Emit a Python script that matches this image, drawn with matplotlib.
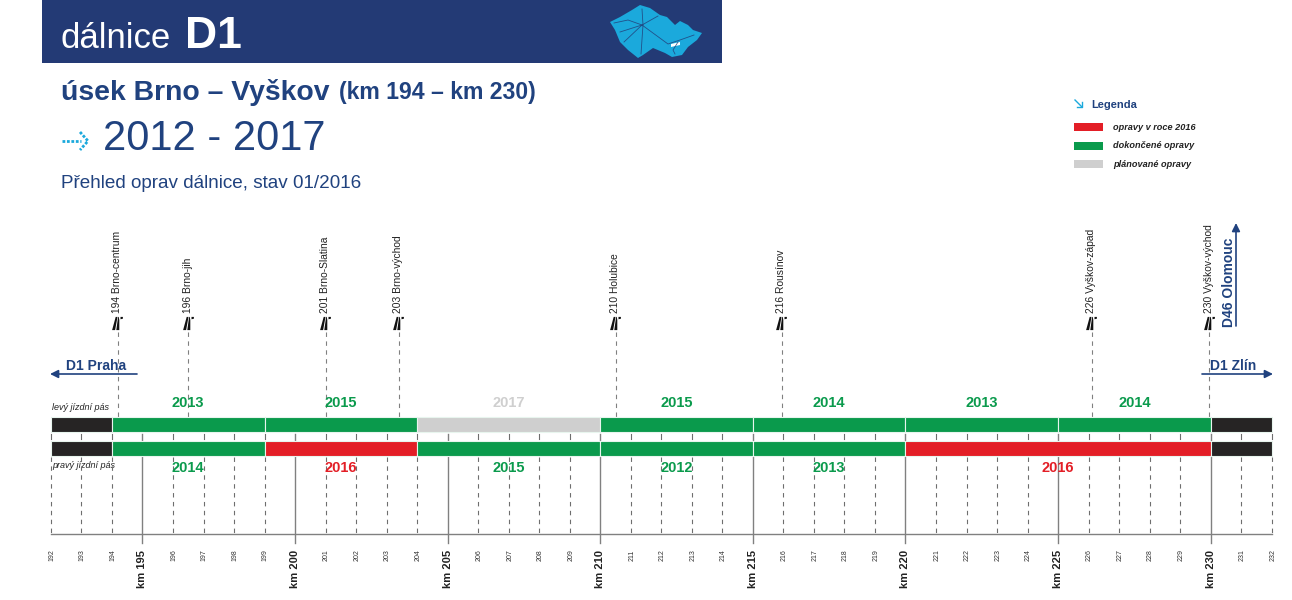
import matplotlib as mpl
mpl.use('Agg')
import matplotlib.pyplot as plt
from matplotlib import patches
from matplotlib.path import Path

# useky oprav: od km, do km, rok
left_start = [192, 194, 199, 204, 210, 215, 220, 225, 230]
left_end = [194, 199, 204, 210, 215, 220, 225, 230, 232]
left_year = [None, 2013, 2015, 2017, 2015, 2014, 2013, 2014, None]
right_start = [192, 194, 199, 204, 210, 215, 220, 230]
right_end = [194, 199, 204, 210, 215, 220, 230, 232]
right_year = [None, 2014, 2016, 2015, 2012, 2013, 2016, None]

exit_km = [194.2, 196.5, 201.0, 203.4, 210.5, 215.95, 226.1, 229.95]
exit_names = ['194 Brno-centrum', '196 Brno-jih', '201 Brno-Slatina', '203 Brno-východ',
              '210 Holubice', '216 Rousínov', '226 Vyškov-západ', '230 Vyškov-východ']
km_ticks = list(range(192, 233))
km_major = [195, 200, 205, 210, 215, 220, 225, 230]

legend_labels = ['opravy v roce 2016', 'dokončené opravy', 'plánované opravy']

RED = '#e31e26'
GREEN = '#0a9a4c'
GRAY = '#cfcfcf'
BLACK = '#262424'
NAVY = '#233a75'
BLUE = '#20427f'
CYAN = '#1ba9dc'
SANS = ['Liberation Sans']

def year_color(y):
    if y is None:
        return BLACK
    if y == 2016:
        return RED
    if y == 2017:
        return GRAY
    return GREEN

fig = plt.figure(figsize=(12.92, 6), dpi=100, facecolor='white')
# pixelove platno na texty a zahlavi
px = fig.add_axes([0, 0, 1, 1])
px.set_xlim(0, 1292)
px.set_ylim(600, 0)
px.axis('off')
# osa v km, stejna vyska jako platno
ax = fig.add_axes([0, 0, 1, 1])
ax.set_xlim(192 - 50.9 / 30.52, 192 + (1292 - 50.9) / 30.52)
ax.set_ylim(600, 0)
ax.axis('off')

# zahlavi
px.add_patch(patches.Rectangle((42, 0), 680, 63, color=NAVY, lw=0))
px.text(61, 38, 'dálnice', color='white', fontsize=25, family=SANS, va='center', ha='left')
px.text(185, 36, 'D1', color='white', fontsize=32, family=SANS, weight='bold', va='center', ha='left')
px.text(61, 92, 'úsek Brno – Vyškov', color=BLUE, fontsize=20.4, family=SANS, weight='bold', va='center')
px.text(339, 92, '(km 194 – km 230)', color=BLUE, fontsize=16.6, family=SANS, weight='bold', va='center')
px.text(103, 139, '2012 - 2017', color=BLUE, fontsize=30, family=SANS, va='center')
px.text(61, 183, 'Přehled oprav dálnice, stav 01/2016', color=BLUE, fontsize=13.6, family=SANS, va='center')
px.plot([62, 81], [141, 141], color=CYAN, lw=2, ls=(0, (1, 0.6)))
px.plot([80, 88, 80], [132, 141, 150], color=CYAN, lw=2, ls=(0, (1, 0.6)))

# mapa CR - jen hruby obrys
map_x = [610, 620, 632, 640, 650, 660, 667, 675, 680, 688, 693, 702, 697, 688, 682, 672, 665, 653, 643, 638, 628, 620, 615]
map_y = [22, 17, 10, 5, 8, 15, 17, 25, 21, 25, 30, 33, 40, 47, 55, 57, 53, 48, 55, 58, 50, 42, 30]
px.fill(map_x, map_y, color=CYAN, lw=0)
for road_x, road_y in [([614, 628, 642, 668, 680, 694], [23, 20, 25, 44, 40, 35]),
                       ([642, 643, 641], [9, 25, 54]),
                       ([624, 642, 658], [42, 25, 16]),
                       ([620, 642], [32, 25]),
                       ([678, 673, 675], [42, 50, 54])]:
    px.plot(road_x, road_y, color=NAVY, lw=0.6, alpha=0.8)
px.fill([671, 680, 680, 671], [44, 42, 45, 47], color='white', lw=0)

# legenda
px.text(1091, 105, 'Legenda', color=BLUE, fontsize=8, family=SANS, weight='bold', va='center')
px.plot([1075, 1082], [100, 107], color=CYAN, lw=1)
px.plot([1077, 1082, 1082], [107, 107, 102], color=CYAN, lw=1)
for i, (c, t) in enumerate(zip([RED, GREEN, GRAY], legend_labels)):
    y = 127 + i * 18.7
    px.add_patch(patches.Rectangle((1074, y - 4), 29, 8, color=c, lw=0))
    px.text(1113, y, t, fontsize=6.6, family=SANS, weight='bold', style='italic', color='#222222', va='center')

# carkovane kilometry
for km in km_ticks:
    if km in km_major:
        ax.plot([km, km], [456, 543], color='#808080', lw=1.0, zorder=1)
        ax.plot([km, km], [434, 440], color='#808080', lw=1.0, zorder=1)
        ax.text(km, 588, 'km %d' % km, rotation=90, fontsize=8, family=SANS, weight='bold',
                ha='center', va='bottom', color='#222222')
    else:
        ax.plot([km, km], [457, 534], color='#6e6e6e', lw=0.8, ls=(0, (4, 4)), zorder=1)
        ax.plot([km, km], [434, 439], color='#6e6e6e', lw=0.8, zorder=1)
        ax.text(km + 0.03, 561, str(km), rotation=90, fontsize=5, family=SANS,
                ha='center', va='bottom', color='#333333')
ax.plot([km_ticks[0], km_ticks[-1]], [534, 534], color='#808080', lw=1, zorder=1)

# znacka exitu
bar_a = Path([(-4.5, -5.5), (-2, -5.5), (0, 5.5), (-1.5, 5.5), (-4.5, -5.5)], closed=True)
bar_b = Path([(-1, -5.5), (1.5, -5.5), (1.5, 3), (1, 5.5), (0.5, 5.5), (-1, -5.5)], closed=True)
tick = Path([(2.5, 3.5), (4.5, 4), (4.5, 5.5), (2.5, 5.5), (2.5, 3.5)], closed=True)
exit_icon = Path.make_compound_path(bar_a, bar_b, tick)

# exity
for km, name in zip(exit_km, exit_names):
    ax.plot([km, km], [332, 418], color='#808080', lw=0.8, ls=(0, (4, 4)), zorder=1)
    ax.plot([km - 0.02], [323], marker=exit_icon, ms=9.5, color='#111111', mew=0, ls='none')
    ax.text(km - 0.02, 313, name, rotation=90, fontsize=7.4, family=SANS,
            ha='center', va='bottom', color='#222222')

# jizdni pasy
for start, end, year in zip(left_start, left_end, left_year):
    ax.barh(424.5, end - start, height=14.5, left=start, color=year_color(year),
            edgecolor='#e8f5ee', lw=0.8, zorder=3)
    if year is not None:
        ax.text((start + end) / 2, 403, str(year), color=year_color(year), fontsize=10.5,
                family=SANS, weight='bold', ha='center', va='center', zorder=4)
for start, end, year in zip(right_start, right_end, right_year):
    ax.barh(448.5, end - start, height=15.5, left=start, color=year_color(year),
            edgecolor='#e8f5ee', lw=0.8, zorder=3)
    if year is not None:
        ax.text((start + end) / 2, 468, str(year), color=year_color(year), fontsize=10.5,
                family=SANS, weight='bold', ha='center', va='center', zorder=4)

px.text(52, 407, 'levý jízdní pás', fontsize=6.5, family=SANS, style='italic', color='#222222', va='center')
px.text(52, 465, 'pravý jízdní pás', fontsize=6.5, family=SANS, style='italic', color='#222222', va='center')

# smery
arrow = dict(arrowstyle='-|>', color=BLUE, lw=1.2, mutation_scale=12, shrinkA=0, shrinkB=0)
px.annotate('', xy=(50, 374), xytext=(137, 374), arrowprops=arrow)
px.text(66, 366, 'D1 Praha', color=BLUE, fontsize=10, family=SANS, weight='bold', va='center')
px.annotate('', xy=(1273, 374), xytext=(1202, 374), arrowprops=arrow)
px.text(1210, 366, 'D1 Zlín', color=BLUE, fontsize=10, family=SANS, weight='bold', va='center')
px.annotate('', xy=(1236, 223), xytext=(1236, 326), arrowprops=arrow)
px.text(1229, 327, 'D46 Olomouc', color=BLUE, fontsize=10, family=SANS, weight='bold',
        rotation=90, ha='center', va='bottom')

fig.savefig('out.png', dpi=100, facecolor='white')
